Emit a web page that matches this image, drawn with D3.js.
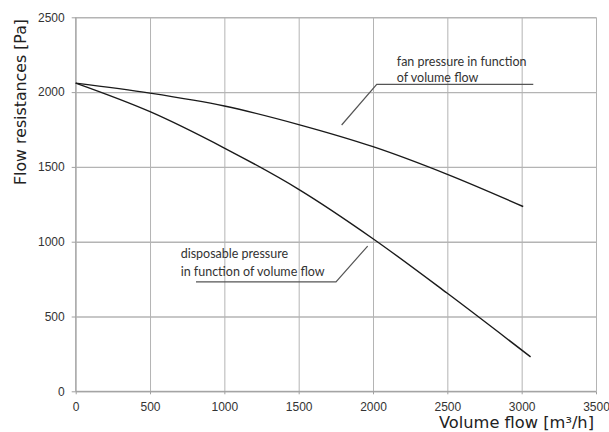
<!DOCTYPE html>
<html>
<head>
<meta charset="utf-8">
<script src="https://cdn.jsdelivr.net/npm/d3@7"></script>
<style>
  html, body { margin: 0; padding: 0; background: #fff; }
  svg { display: block; }
  .grid line { stroke: #b4b4b4; }
  .grid path { display: none; }
  .axis text { font-family: "Liberation Sans", Arial, sans-serif; font-size: 12px; fill: #333; }
  .axis path, .axis line { stroke: #a0a0a0; }
</style>
</head>
<body>
<svg id="chart"></svg>
<script>
"use strict";

// ── Data ───────────────────────────────────────────────────────────────────
const xTicks = [0, 500, 1000, 1500, 2000, 2500, 3000, 3500];
const yTicks = [0, 500, 1000, 1500, 2000, 2500];

const fanFlow     = [0, 500, 1000, 1500, 2000, 2500, 3010];
const fanPressure = [2060, 1993, 1907, 1783, 1635, 1450, 1235];

const dispFlow     = [0, 500, 1000, 1500, 2000, 2500, 3060];
const dispPressure = [2060, 1869, 1626, 1350, 1020, 655, 230];

const fanLabel  = ["fan pressure in function", "of volume flow"];
const dispLabel = ["disposable pressure", "in function of volume flow"];

// annotation anchors, in data units
const fanNote  = { textX: 2160, lineY: [2174, 2065], leaderY: 2052, x0: 2025, x1: 3078, tipX: 1789, tipY: 1780 };
const dispNote = { textX: 706,  lineY: [889, 773],   leaderY: 731,  x0: 1751, x1: 809,  tipX: 1964, tipY: 971 };

// ── Setup ──────────────────────────────────────────────────────────────────
const totalW = 609, totalH = 432;
const margin = { top: 17.3, right: 13, bottom: 40.7, left: 75.7 };
const W = totalW - margin.left - margin.right;
const H = totalH - margin.top - margin.bottom;

const svg = d3.select("#chart").attr("width", totalW).attr("height", totalH);
const g = svg.append("g").attr("transform", `translate(${margin.left},${margin.top})`);

const xScale = d3.scaleLinear().domain([0, 3500]).range([0, W]);
const yScale = d3.scaleLinear().domain([0, 2500]).range([H, 0]);

// Gridlines
g.append("g").attr("class", "grid")
  .call(d3.axisLeft(yScale).tickValues(yTicks).tickSize(-W).tickFormat(""))
  .selectAll("line").attr("stroke", "#cfcfcf").attr("stroke-width", 1.4);

g.append("g").attr("class", "grid")
  .call(d3.axisBottom(xScale).tickValues(xTicks).tickSize(H).tickFormat(""));

// Axes
const yAxis = g.append("g").attr("class", "axis")
  .call(d3.axisLeft(yScale).tickValues(yTicks).tickSize(4).tickPadding(7).tickFormat(d3.format("d")));
yAxis.select(".domain").remove();

const xAxis = g.append("g").attr("class", "axis")
  .attr("transform", `translate(0,${H})`)
  .call(d3.axisBottom(xScale).tickValues(xTicks).tickSize(3).tickPadding(8).tickFormat(d3.format("d")));
xAxis.select(".domain").remove();

g.append("line").attr("x1", 0).attr("x2", W).attr("y1", H).attr("y2", H)
  .attr("stroke", "#a0a0a0");
g.append("line").attr("x1", 0).attr("x2", 0).attr("y1", 0).attr("y2", H)
  .attr("stroke", "#a0a0a0");

// Axis titles
svg.append("text")
  .attr("transform", "translate(26,102) rotate(-90)")
  .attr("text-anchor", "middle")
  .attr("font-family", "'DejaVu Sans', sans-serif")
  .attr("font-size", "15px").attr("fill", "#222")
  .attr("textLength", 166).attr("lengthAdjust", "spacingAndGlyphs")
  .text("Flow resistances [Pa]");

svg.append("text")
  .attr("x", margin.left + W - 2).attr("y", 428)
  .attr("text-anchor", "end")
  .attr("font-family", "'DejaVu Sans', sans-serif")
  .attr("font-size", "15px").attr("fill", "#222")
  .attr("textLength", 155).attr("lengthAdjust", "spacingAndGlyphs")
  .text("Volume flow [m³/h]");

// Curves
const line = d3.line()
  .x(d => xScale(d[0]))
  .y(d => yScale(d[1]))
  .curve(d3.curveMonotoneX);

const series = [
  d3.zip(fanFlow, fanPressure),
  d3.zip(dispFlow, dispPressure)
];

g.selectAll(".curve")
  .data(series)
  .enter().append("path")
  .attr("class", "curve")
  .attr("d", line)
  .attr("fill", "none")
  .attr("stroke", "#1a1a1a")
  .attr("stroke-width", 1.4);

// Annotations
function drawNote(note, lines) {
  const t = g.append("g");
  lines.forEach((s, i) => {
    t.append("text")
      .attr("x", xScale(note.textX)).attr("y", yScale(note.lineY[i]))
      .attr("font-family", "Lato, 'Open Sans', sans-serif")
      .attr("font-size", "12.5px").attr("fill", "#333")
      .text(s);
  });
  t.append("polyline")
    .attr("points", [
      [xScale(note.x1), yScale(note.leaderY)],
      [xScale(note.x0), yScale(note.leaderY)],
      [xScale(note.tipX), yScale(note.tipY)]
    ].map(p => p.join(",")).join(" "))
    .attr("fill", "none")
    .attr("stroke", "#555")
    .attr("stroke-width", 1.2);
}

drawNote(fanNote, fanLabel);
drawNote(dispNote, dispLabel);
</script>
</body>
</html>
